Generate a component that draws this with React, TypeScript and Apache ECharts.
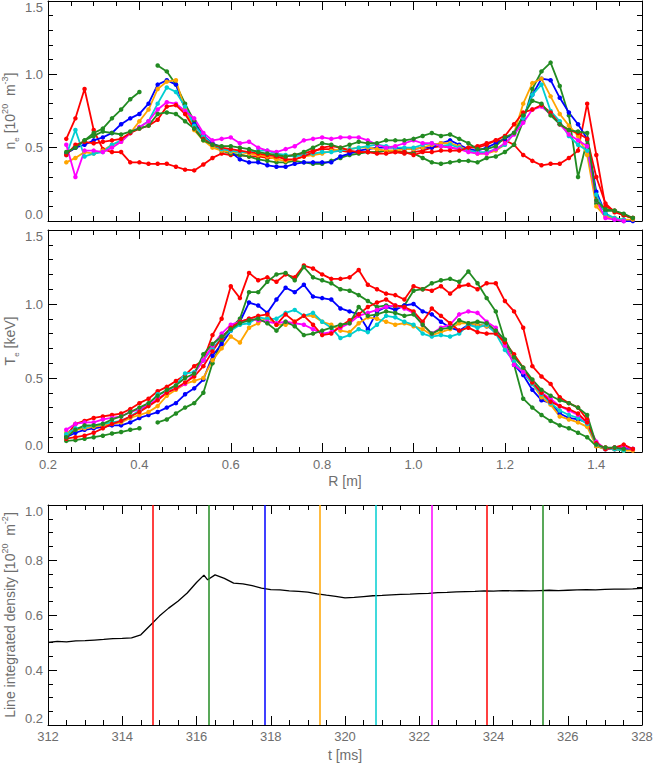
import React, { useEffect, useRef } from 'react';
import * as echarts from 'echarts';

// ---------- data ----------
const R = [
  0.24, 0.26, 0.28, 0.30, 0.32, 0.34, 0.36, 0.38, 0.40, 0.42,
  0.44, 0.46, 0.48, 0.50, 0.52, 0.54, 0.56, 0.58, 0.60, 0.62,
  0.64, 0.66, 0.68, 0.70, 0.72, 0.74, 0.76, 0.78, 0.80, 0.82,
  0.84, 0.86, 0.88, 0.90, 0.92, 0.94, 0.96, 0.98, 1.00, 1.02,
  1.04, 1.06, 1.08, 1.10, 1.12, 1.14, 1.16, 1.18, 1.20, 1.22,
  1.24, 1.26, 1.28, 1.30, 1.32, 1.34, 1.36, 1.38, 1.40, 1.42,
  1.44, 1.46, 1.48,
];

// electron density profiles [1e20 m^-3]
const neRed1 = [0.56, 0.70, 0.90, 0.62, 0.49, 0.47, 0.47, 0.40, 0.40, 0.39,
  0.39, 0.39, 0.37, 0.35, 0.345, 0.385, 0.43, 0.46, 0.45, 0.45,
  0.44, 0.44, 0.43, 0.43, 0.44, 0.45, 0.46, 0.48, 0.49, 0.49,
  0.48, 0.47, 0.47, 0.47, 0.47, 0.48, 0.47, 0.46, 0.47, 0.48,
  0.50, 0.51, 0.50, 0.49, 0.50, 0.51, 0.53, 0.55, 0.55, 0.52,
  0.45, 0.41, 0.38, 0.39, 0.39, 0.43, 0.48, 0.80, 0.45, 0.10,
  0.07, 0.04, 0.02];
const neGreen1 = [0.46, 0.50, 0.55, 0.60, 0.63, 0.70, 0.76, 0.83, 0.88, null,
  1.06, 1.02, 0.93, 0.80, 0.68, 0.58, 0.52, 0.48, 0.46, 0.45,
  0.44, 0.42, 0.41, 0.40, 0.40, 0.41, 0.40, 0.39, 0.39, 0.41,
  0.43, 0.45, 0.46, 0.47, 0.47, 0.48, 0.48, 0.47, 0.46, 0.43,
  0.40, 0.39, 0.40, 0.41, 0.41, 0.40, 0.43, 0.44, 0.47, 0.52,
  0.68, 0.90, 1.02, 1.08, 0.92, 0.72, 0.30, 0.55, 0.12, 0.07,
  0.07, 0.04, 0.02];
const neBlue = [0.46, 0.50, 0.52, 0.55, 0.57, 0.60, 0.66, 0.70, 0.73, 0.80,
  0.93, 0.96, 0.93, 0.76, 0.66, 0.58, 0.53, 0.50, 0.47, 0.42,
  0.40, 0.40, 0.38, 0.37, 0.37, 0.39, 0.40, 0.40, 0.40, 0.40,
  0.44, 0.46, 0.48, 0.49, 0.50, 0.50, 0.50, 0.49, 0.49, 0.50,
  0.50, 0.53, 0.55, 0.52, 0.49, 0.48, 0.50, 0.53, 0.56, 0.60,
  0.70, 0.86, 0.97, 0.96, 0.84, 0.74, 0.66, 0.56, 0.20, 0.05,
  0.01, 0.00, 0.00];
const neOrange = [0.40, 0.43, 0.47, 0.46, 0.48, 0.52, 0.54, 0.60, 0.68, 0.76,
  0.90, 0.95, 0.96, 0.76, 0.62, 0.55, 0.50, 0.48, 0.47, 0.47,
  0.46, 0.45, 0.44, 0.42, 0.41, 0.42, 0.44, 0.45, 0.46, 0.48,
  0.49, 0.49, 0.50, 0.50, 0.49, 0.48, 0.48, 0.49, 0.49, 0.50,
  0.52, 0.53, 0.53, 0.51, 0.48, 0.46, 0.46, 0.48, 0.52, 0.60,
  0.80, 0.94, 0.97, 0.85, 0.73, 0.65, 0.58, 0.45, 0.10, 0.03,
  0.02, 0.01, 0.01];
const neCyan = [0.45, 0.62, 0.44, 0.46, 0.47, 0.52, 0.55, 0.60, 0.64, 0.68,
  0.80, 0.91, 0.88, 0.78, 0.65, 0.58, 0.52, 0.49, 0.48, 0.47,
  0.47, 0.48, 0.48, 0.46, 0.45, 0.44, 0.45, 0.46, 0.47, 0.47,
  0.48, 0.49, 0.50, 0.51, 0.52, 0.51, 0.50, 0.50, 0.50, 0.52,
  0.53, 0.51, 0.52, 0.50, 0.48, 0.47, 0.47, 0.49, 0.52, 0.60,
  0.70, 0.86, 0.93, 0.75, 0.68, 0.58, 0.52, 0.48, 0.18, 0.05,
  0.02, 0.01, null];
const neMagenta = [0.52, 0.30, 0.48, 0.48, 0.47, 0.50, 0.54, 0.60, 0.64, 0.68,
  0.76, 0.81, 0.80, 0.75, 0.70, 0.60, 0.55, 0.56, 0.57, 0.53,
  0.54, 0.50, 0.48, 0.47, 0.49, 0.51, 0.55, 0.56, 0.57, 0.56,
  0.57, 0.57, 0.57, 0.55, 0.52, 0.50, 0.51, 0.53, 0.55, 0.53,
  0.53, 0.51, 0.50, 0.49, 0.47, 0.46, 0.46, 0.49, 0.53, 0.59,
  0.67, 0.76, 0.78, 0.73, 0.66, 0.59, 0.55, 0.51, 0.14, 0.02,
  0.01, 0.00, null];
const neRed2 = [0.45, 0.52, 0.54, 0.53, 0.54, 0.55, 0.56, 0.60, 0.63, 0.65,
  0.69, 0.78, 0.79, 0.73, 0.63, 0.56, 0.52, 0.50, 0.49, 0.48,
  0.47, 0.46, 0.45, 0.44, 0.42, 0.42, 0.44, 0.47, 0.50, 0.51,
  0.50, 0.48, 0.47, 0.47, 0.46, 0.46, 0.47, 0.47, 0.45, 0.47,
  0.47, 0.48, 0.48, 0.48, 0.50, 0.50, 0.52, 0.55, 0.58, 0.66,
  0.74, 0.76, 0.79, 0.74, 0.66, 0.62, 0.60, 0.56, 0.30, 0.12,
  0.06, 0.04, 0.02];
const neGreen2 = [0.47, 0.50, 0.55, 0.58, 0.61, 0.60, 0.59, 0.61, 0.63, 0.65,
  0.73, 0.74, 0.73, 0.68, 0.63, 0.55, 0.52, 0.51, 0.51, 0.50,
  0.49, 0.47, 0.46, 0.45, 0.44, 0.45, 0.47, 0.50, 0.53, 0.52,
  0.50, 0.52, 0.54, 0.53, 0.53, 0.55, 0.55, 0.55, 0.56, 0.58,
  0.60, 0.58, 0.59, 0.56, 0.53, 0.49, 0.49, 0.51, 0.57, 0.60,
  0.72, 0.82, 0.80, 0.72, 0.66, 0.62, 0.61, 0.60, 0.14, 0.08,
  0.07, 0.05, 0.02];

// electron temperature profiles [keV]
const teRed1 = [0.11, 0.19, 0.21, 0.23, 0.24, 0.25, 0.26, 0.29, 0.33, 0.36,
  0.41, 0.44, 0.48, 0.52, 0.58, 0.62, 0.79, 0.90, 1.12, 1.04,
  1.21, 1.16, 1.18, 1.15, 1.20, 1.18, 1.26, 1.24, 1.20, 1.17,
  1.17, 1.18, 1.23, 1.13, 1.10, 1.07, 1.06, 1.03, 1.12, 1.10,
  1.09, 1.12, 1.07, 1.12, 1.13, 1.10, 1.14, 1.14, 1.02, 0.95,
  0.84, 0.58, 0.51, 0.46, 0.37, 0.33, 0.30, 0.22, 0.04, 0.03,
  0.02, 0.04, 0.02];
const teGreen1 = [0.075, 0.08, 0.09, 0.10, 0.11, 0.125, 0.135, 0.15, 0.16, null,
  0.20, 0.22, 0.26, 0.30, 0.33, 0.40, 0.60, 0.75, 0.84, 0.90,
  1.08, 1.08, 1.15, 1.20, 1.21, 1.16, 1.25, 1.18, 1.16, 1.14,
  1.10, 1.09, 1.06, 1.02, 0.98, 0.99, 0.98, 0.99, 1.09, 1.10,
  1.14, 1.16, 1.17, 1.15, 1.22, 1.14, 1.04, 0.95, 0.75, 0.59,
  0.36, 0.30, 0.25, 0.21, 0.18, 0.16, 0.13, 0.10, 0.04, 0.02,
  0.02, 0.01, null];
const teBlue = [0.10, 0.13, 0.15, 0.16, 0.17, 0.18, 0.18, 0.20, 0.23, 0.25,
  0.27, 0.30, 0.33, 0.39, 0.43, 0.49, 0.65, 0.73, 0.82, 0.88,
  1.01, 0.99, 0.94, 1.03, 1.11, 1.08, 1.13, 1.05, 1.04, 1.03,
  0.97, 0.95, 0.93, 0.83, 0.95, 0.98, 0.96, 0.99, 1.00, 0.95,
  0.93, 0.88, 0.84, 0.82, 0.86, 0.86, 0.85, 0.82, 0.74, 0.59,
  0.52, 0.42, 0.35, 0.33, 0.26, 0.23, 0.22, 0.20, 0.05, 0.02,
  0.02, 0.02, 0.02];
const teOrange = [0.13, 0.15, 0.16, 0.17, 0.18, 0.19, 0.20, 0.23, 0.25, 0.27,
  0.31, 0.38, 0.42, 0.46, 0.48, 0.50, 0.62, 0.70, 0.78, 0.74,
  0.84, 0.87, 0.91, 0.86, 0.86, 0.88, 0.92, 0.92, 0.88, 0.86,
  0.82, 0.81, 0.87, 0.91, 0.90, 0.88, 0.86, 0.87, 0.85, 0.83,
  0.79, 0.81, 0.83, 0.87, 0.87, 0.86, 0.85, 0.82, 0.72, 0.61,
  0.54, 0.46, 0.37, 0.32, 0.24, 0.22, 0.20, 0.17, 0.04, 0.02,
  0.02, 0.01, 0.01];
const teCyan = [0.12, 0.16, 0.17, 0.18, 0.19, 0.20, 0.21, 0.24, 0.28, 0.32,
  0.39, 0.41, 0.45, 0.53, 0.54, 0.62, 0.70, 0.77, 0.82, 0.86,
  0.87, 0.91, 0.90, 0.90, 0.94, 0.96, 0.92, 0.94, 0.88, 0.84,
  0.77, 0.79, 0.83, 0.81, 0.86, 0.92, 0.91, 0.88, 0.86, 0.80,
  0.78, 0.79, 0.78, 0.80, 0.86, 0.84, 0.86, 0.80, 0.69, 0.61,
  0.54, 0.46, 0.39, 0.33, 0.28, 0.25, 0.23, 0.19, 0.05, 0.02,
  0.02, 0.01, null];
const teMagenta = [0.15, 0.19, 0.20, 0.20, 0.22, 0.23, 0.24, 0.27, 0.29, 0.32,
  0.36, 0.40, 0.43, 0.46, 0.53, 0.62, 0.72, 0.80, 0.86, 0.88,
  0.90, 0.89, 0.88, 0.87, 0.88, 0.87, 0.86, 0.83, 0.80, 0.81,
  0.84, 0.87, 0.92, 0.94, 0.96, 0.98, 0.99, 0.97, 0.94, 0.86,
  0.80, 0.84, 0.86, 0.93, 0.95, 0.94, 0.88, 0.84, 0.72, 0.59,
  0.54, 0.48, 0.40, 0.36, 0.31, 0.28, 0.25, 0.20, 0.07, 0.02,
  0.03, 0.04, 0.02];
const teRed2 = [0.09, 0.10, 0.11, 0.13, 0.16, 0.19, 0.21, 0.24, 0.27, 0.31,
  0.35, 0.40, 0.43, 0.47, 0.51, 0.58, 0.68, 0.77, 0.84, 0.88,
  0.90, 0.92, 0.93, 0.86, 0.93, 0.88, 0.92, 0.86, 0.79, 0.80,
  0.85, 0.89, 0.93, 0.98, 1.01, 1.03, 0.99, 0.98, 0.95, 0.88,
  0.97, 0.92, 0.87, 0.82, 0.84, 0.81, 0.80, 0.80, 0.74, 0.66,
  0.57, 0.47, 0.40, 0.34, 0.31, 0.29, 0.26, 0.20, 0.06, 0.02,
  0.03, 0.05, 0.02];
const teGreen2 = [0.10, 0.15, 0.18, 0.18, 0.19, 0.22, 0.24, 0.27, 0.30, 0.33,
  0.38, 0.42, 0.45, 0.50, 0.53, 0.66, 0.73, 0.78, 0.83, 0.87,
  0.89, 0.90, 0.87, 0.82, 0.88, 0.85, 0.79, 0.80, 0.82, 0.84,
  0.86, 0.87, 0.98, 0.92, 0.93, 0.95, 0.94, 0.92, 0.93, 0.86,
  0.80, 0.83, 0.84, 0.89, 0.87, 0.88, 0.87, 0.82, 0.76, 0.64,
  0.57, 0.49, 0.42, 0.38, 0.35, 0.33, 0.30, 0.25, 0.05, 0.03,
  0.03, 0.02, null];

// line integrated density time trace
const tMs = [
  312.00, 312.25, 312.50, 312.75, 313.00, 313.25, 313.50, 313.75, 314.00, 314.25,
  314.50, 314.75, 315.00, 315.25, 315.50, 315.75, 316.00, 316.20, 316.30, 316.50,
  316.75, 317.00, 317.25, 317.50, 317.75, 318.00, 318.25, 318.50, 318.75, 319.00,
  319.25, 319.50, 319.75, 320.00, 320.25, 320.50, 320.75, 321.00, 321.25, 321.50,
  321.75, 322.00, 322.25, 322.50, 322.75, 323.00, 323.25, 323.50, 323.75, 324.00,
  324.25, 324.50, 324.75, 325.00, 325.25, 325.50, 325.75, 326.00, 326.25, 326.50,
  326.75, 327.00, 327.25, 327.50, 327.75, 328.00,
];
const lineDensity = [
  0.500, 0.504, 0.502, 0.506, 0.507, 0.509, 0.511, 0.514, 0.515, 0.517,
  0.528, 0.562, 0.596, 0.625, 0.650, 0.680, 0.718, 0.745, 0.728, 0.746,
  0.733, 0.716, 0.713, 0.707, 0.698, 0.692, 0.691, 0.688, 0.686, 0.683,
  0.677, 0.672, 0.668, 0.662, 0.664, 0.667, 0.670, 0.671, 0.673, 0.675,
  0.676, 0.678, 0.679, 0.681, 0.682, 0.684, 0.685, 0.686, 0.688, 0.687,
  0.689, 0.688, 0.689, 0.688, 0.689, 0.690, 0.689, 0.690, 0.691, 0.692,
  0.691, 0.693, 0.694, 0.694, 0.695, 0.697,
];

const profileTimes = [314.83, 316.33, 317.83, 319.33, 320.83, 322.33, 323.83, 325.33];
const profileColors = ['#ff0000', '#228b22', '#0000ff', '#ffa500', '#00ced1', '#ff00ff', '#ff0000', '#228b22'];
const neProfiles = [neRed1, neGreen1, neBlue, neOrange, neCyan, neMagenta, neRed2, neGreen2];
const teProfiles = [teRed1, teGreen1, teBlue, teOrange, teCyan, teMagenta, teRed2, teGreen2];

// ---------- styling ----------
const FONT = 'Liberation Sans, Arial, sans-serif';
const TXT_COLOR = '#6e6e6e';
const K = { color: '#000', width: 1 };
const TXT = { color: TXT_COLOR, fontFamily: FONT, fontSize: 13 };
const NAME_TXT = { color: TXT_COLOR, fontFamily: FONT, fontSize: 14 };
const RICH = {
  t: { color: TXT_COLOR, fontFamily: FONT, fontSize: 14, lineHeight: 20 },
  sub: { color: TXT_COLOR, fontFamily: FONT, fontSize: 8, verticalAlign: 'bottom' },
  sup: { color: TXT_COLOR, fontFamily: FONT, fontSize: 9, verticalAlign: 'top' },
};

function rAxis(gridIndex: number, position: string, major: boolean, labels: boolean): any {
  return {
    type: 'value', gridIndex, position, min: 0.2, max: 1.5,
    interval: major ? 0.2 : 0.05,
    axisLine: { show: major, onZero: false, lineStyle: K },
    axisTick: { show: true, inside: true, length: major ? 9 : 5, lineStyle: K },
    axisLabel: labels
      ? { show: true, margin: 6, ...TXT, showMaxLabel: false, formatter: (v: number) => v.toFixed(1) }
      : { show: false },
    splitLine: { show: false },
    ...(labels ? { name: 'R [m]', nameLocation: 'middle', nameGap: 22, nameTextStyle: { ...NAME_TXT } } : {}),
  };
}

function tAxis(position: string, labels: boolean): any {
  return {
    type: 'value', gridIndex: 2, position, min: 312, max: 328, interval: 2,
    axisLine: { show: true, onZero: false, lineStyle: K },
    axisTick: { show: true, inside: true, length: 9, lineStyle: K },
    minorTick: { show: true, splitNumber: 4, length: 5, lineStyle: K },
    axisLabel: labels ? { show: true, margin: 5, ...TXT, formatter: (v: number) => String(Math.round(v)) } : { show: false },
    splitLine: { show: false },
    minorSplitLine: { show: false },
    ...(labels ? { name: 't [ms]', nameLocation: 'middle', nameGap: 23, nameTextStyle: { ...NAME_TXT } } : {}),
  };
}

function yAx(gridIndex: number, position: string, min: number, max: number, interval: number, minorSplit: number, name?: string): any {
  const labels = position === 'left';
  return {
    type: 'value', gridIndex, position, min, max, interval,
    axisLine: { show: true, onZero: false, lineStyle: K },
    axisTick: { show: true, inside: true, length: 9, lineStyle: K },
    minorTick: { show: true, splitNumber: minorSplit, length: 5, lineStyle: K },
    axisLabel: labels
      ? { show: true, margin: 5, ...TXT, verticalAlignMinLabel: 'bottom', verticalAlignMaxLabel: 'top', formatter: (v: number) => v.toFixed(1) }
      : { show: false },
    splitLine: { show: false },
    minorSplitLine: { show: false },
    ...(name ? { name, nameLocation: 'middle', nameGap: 28, nameMoveOverlap: false, nameTextStyle: { ...NAME_TXT, rich: RICH } } : {}),
  };
}

function pairs(vals: (number | null)[]) {
  return R.map((r, i) => [r, vals[i] === null ? '-' : vals[i]]);
}

function profileSeries(vals: (number | null)[], color: string, xi: number, yi: number): any {
  return {
    type: 'line', xAxisIndex: xi, yAxisIndex: yi, data: pairs(vals),
    symbol: 'circle', symbolSize: 4.5, showSymbol: true,
    lineStyle: { color, width: 1.8 },
    itemStyle: { color, borderWidth: 0 },
    silent: true, emphasis: { disabled: true },
  };
}

const GRID_COMMON = { left: 48, width: 594, containLabel: false, outerBoundsMode: 'none' };

export default function App() {
  const ref = useRef<HTMLDivElement>(null);
  useEffect(() => {
    const chart = echarts.init(ref.current!, null, { renderer: 'svg' });
    const option: any = {
      animation: false,
      backgroundColor: '#fff',
      grid: [
        { ...GRID_COMMON, top: 1, height: 220 },
        { ...GRID_COMMON, top: 230, height: 222 },
        { ...GRID_COMMON, top: 505, height: 220 },
      ],
      xAxis: [
        rAxis(0, 'bottom', true, false),
        rAxis(0, 'bottom', false, false),
        rAxis(0, 'top', true, false),
        rAxis(0, 'top', false, false),
        rAxis(1, 'bottom', true, true),
        rAxis(1, 'bottom', false, false),
        rAxis(1, 'top', true, false),
        rAxis(1, 'top', false, false),
        tAxis('bottom', true),
        tAxis('top', false),
      ],
      yAxis: [
        yAx(0, 'left', 0, 1.5, 0.5, 5, '{t|n}{sub|e}{t| [10}{sup|20}{t|  m}{sup|-3}{t|]}'),
        yAx(0, 'right', 0, 1.5, 0.5, 5),
        yAx(1, 'left', 0, 1.5, 0.5, 5, '{t|T}{sub|e}{t| [keV]}'),
        yAx(1, 'right', 0, 1.5, 0.5, 5),
        yAx(2, 'left', 0.2, 1.0, 0.2, 4, '{t|Line integrated density [10}{sup|20}{t|  m}{sup|-2}{t|]}'),
        yAx(2, 'right', 0.2, 1.0, 0.2, 4),
      ],
      series: [
        ...neProfiles.map((p, i) => profileSeries(p, profileColors[i], 0, 0)),
        ...teProfiles.map((p, i) => profileSeries(p, profileColors[i], 4, 2)),
        {
          type: 'line', xAxisIndex: 8, yAxisIndex: 4,
          data: tMs.map((t, i) => [t, lineDensity[i]]),
          showSymbol: false, symbol: 'none',
          lineStyle: { color: '#000', width: 1.3 },
          silent: true, emphasis: { disabled: true },
          markLine: {
            silent: true, symbol: ['none', 'none'], label: { show: false },
            emphasis: { disabled: true },
            data: profileTimes.map((t, i) => ({ xAxis: t, lineStyle: { color: profileColors[i], width: 1.5, type: 'solid' } })),
          },
        },
      ],
    };
    chart.setOption(option);
    return () => chart.dispose();
  }, []);
  return (
    <div
      ref={ref}
      style={{ position: 'absolute', left: 0, top: 0, width: 653, height: 764, background: '#fff' }}
    />
  );
}
